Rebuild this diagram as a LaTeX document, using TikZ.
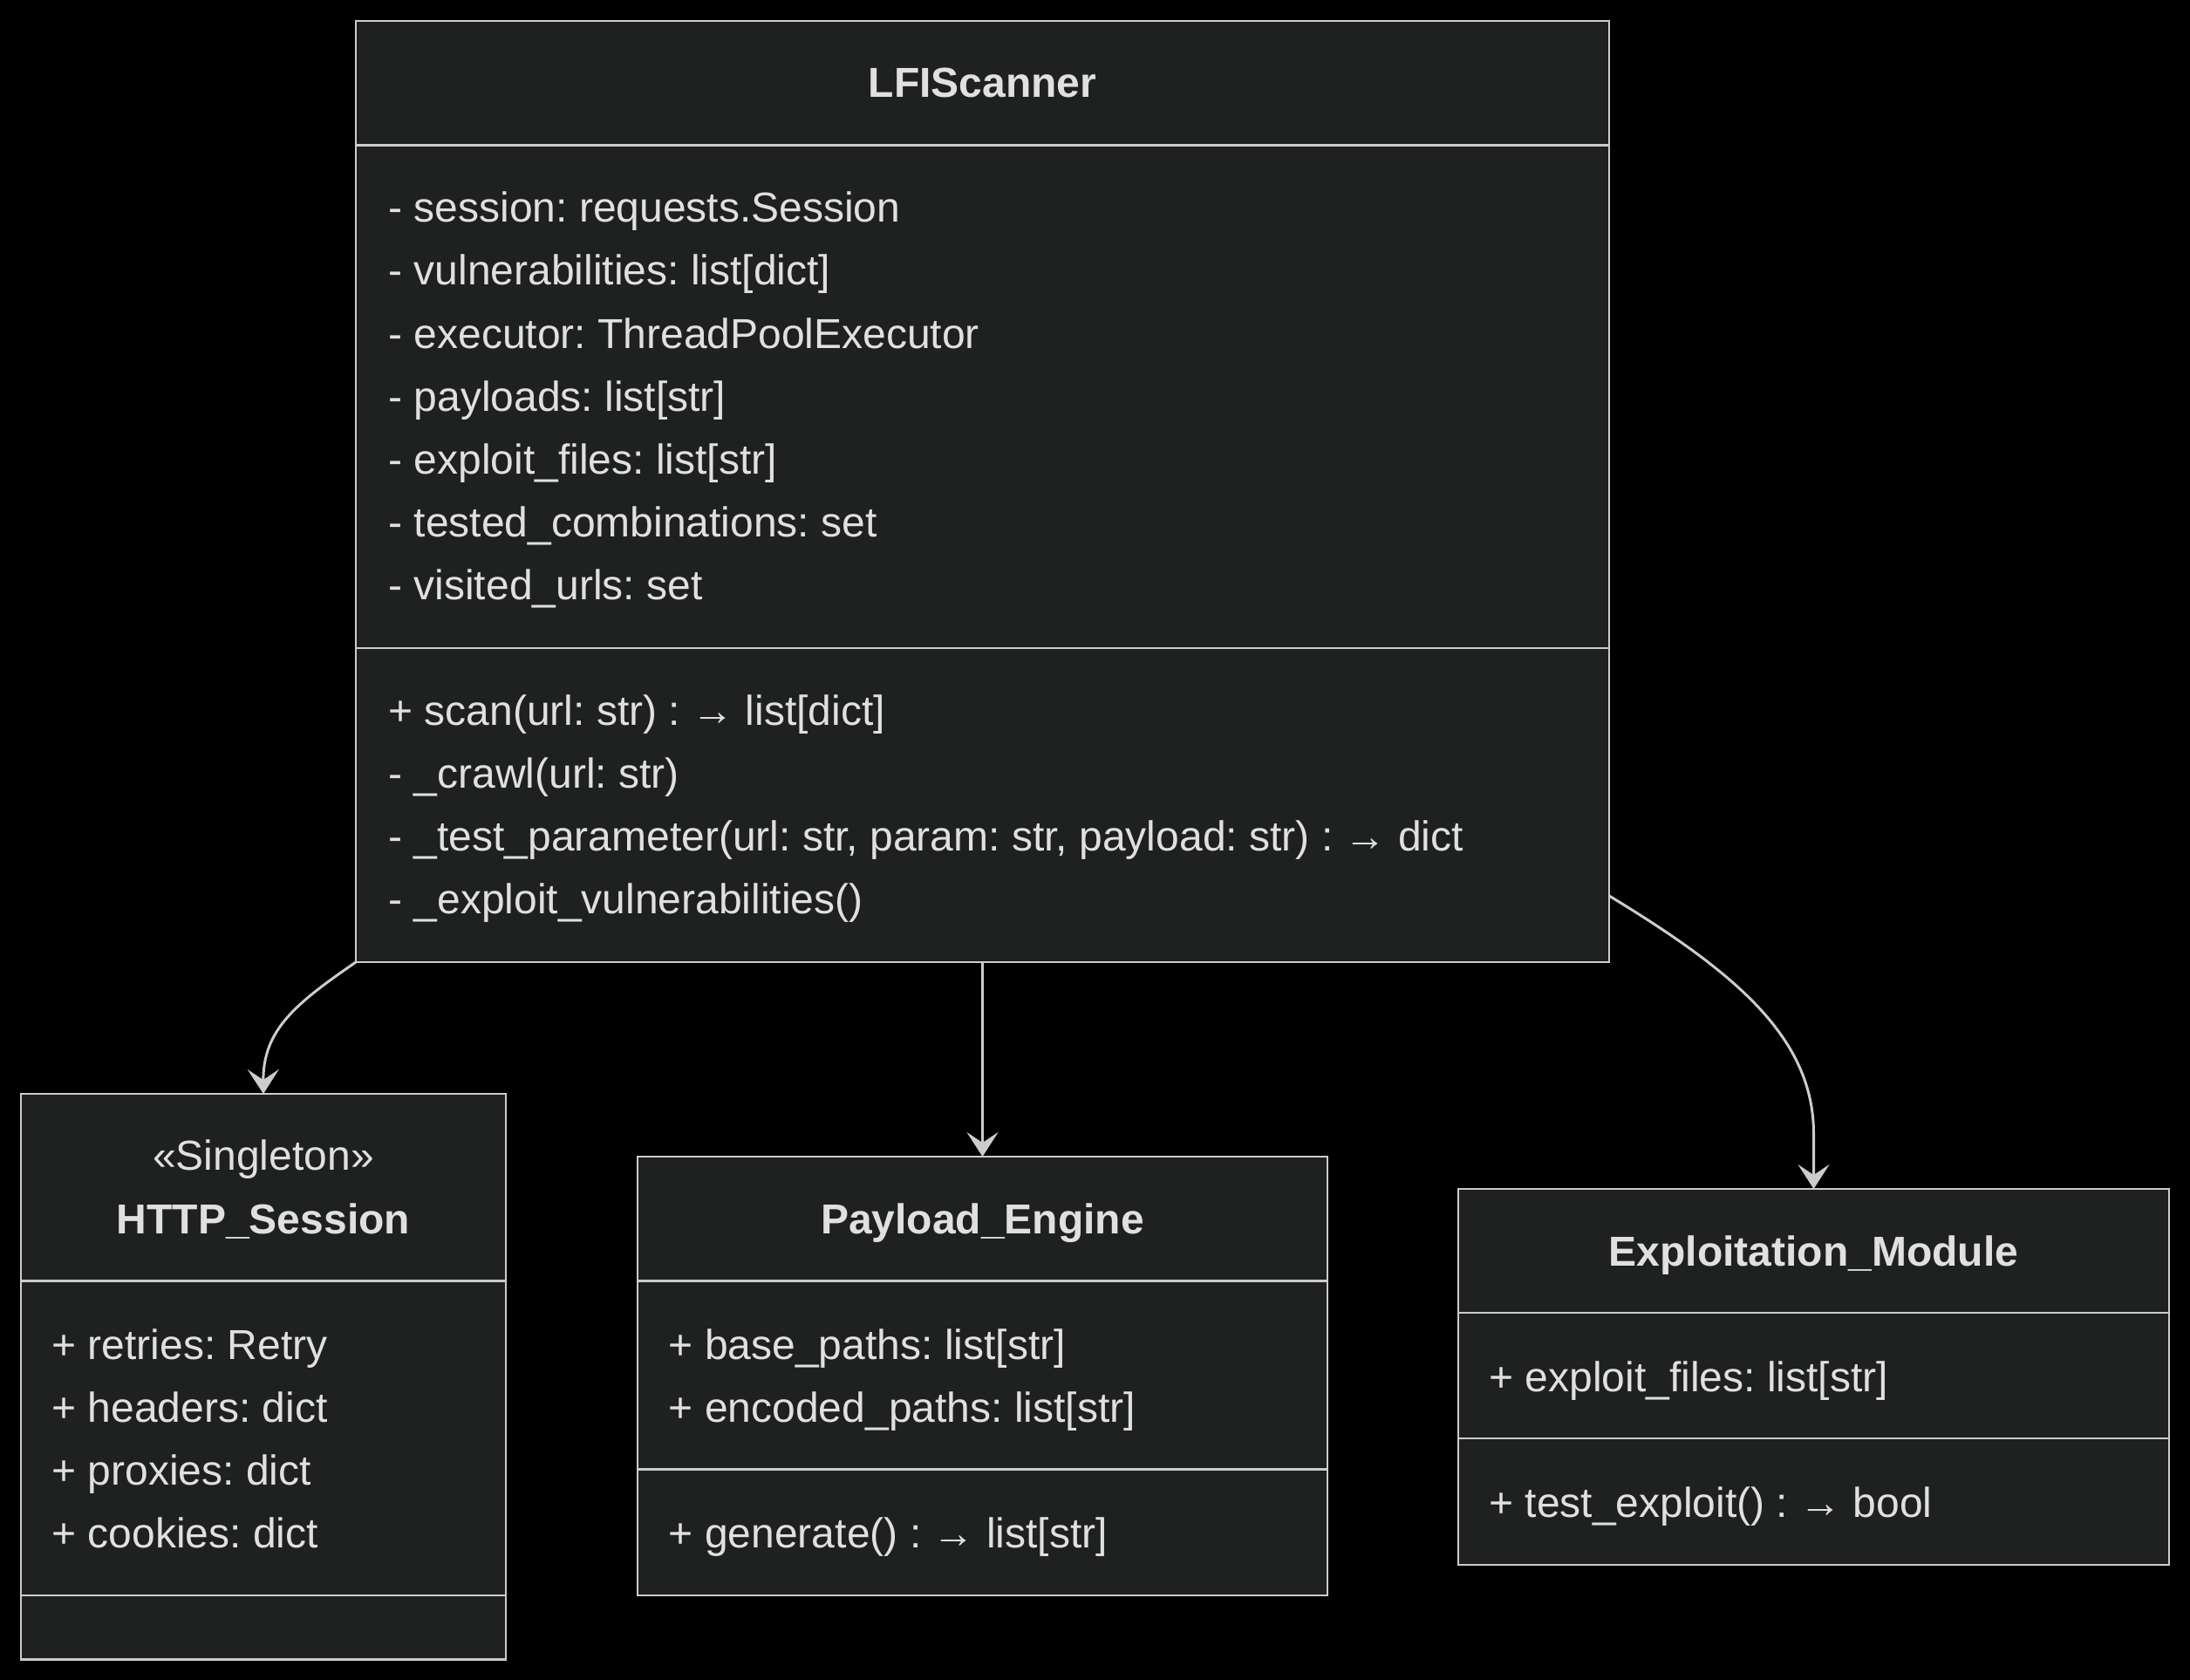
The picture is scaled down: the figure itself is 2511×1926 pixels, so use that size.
\documentclass[tikz,border=0pt]{standalone}
\usepackage{fontspec}
\setmainfont{Liberation Sans}
\usetikzlibrary{arrows.meta}
\definecolor{boxfill}{HTML}{1F2020}
\definecolor{boxline}{HTML}{CCCCCC}
\definecolor{txt}{HTML}{E0E0E0}
\frenchspacing
\begin{document}
\begin{tikzpicture}[x=0.5pt,y=-0.5pt,
  box/.style={draw=boxline, fill=boxfill, line width=1.3pt, inner sep=0pt, outer sep=0pt},
  divider/.style={draw=boxline, line width=1.3pt},
  mem/.style={anchor=base west, inner sep=0pt, text=txt, font=\fontsize{24pt}{36pt}\selectfont},
  ttl/.style={anchor=base, inner sep=0pt, text=txt, font=\fontsize{24pt}{36pt}\selectfont\bfseries},
  stereo/.style={anchor=base, inner sep=0pt, text=txt, font=\fontsize{24pt}{36pt}\selectfont},
  conn/.style={draw=boxline, line width=1.5pt, -{Stealth[length=14pt,width=18pt,inset=6pt]}}]
\useasboundingbox (0,0) rectangle (2511,1926);
\fill[black] (0,0) rectangle (2511,1926);

% LFIScanner
\node[box, minimum width=718.5pt, minimum height=539.5pt] (lfi) at (1126.5,563.5) {};
\draw[divider] (lfi.west |- 0,166.5) -- (lfi.east |- 0,166.5);
\draw[divider] (lfi.west |- 0,743) -- (lfi.east |- 0,743);
\node[ttl] (lfit) at (1126.5,112) {LFIScanner};
\node[mem] (lfia1) at (445,255) {- session: requests.Session};
\node[mem] (lfia2) at (445,327) {- vulnerabilities: list[dict]};
\node[mem] (lfia3) at (445,399) {- executor: ThreadPoolExecutor};
\node[mem] (lfia4) at (445,471) {- payloads: list[str]};
\node[mem] (lfia5) at (445,543) {- exploit\_files: list[str]};
\node[mem] (lfia6) at (445,615) {- tested\_combinations: set};
\node[mem] (lfia7) at (445,687) {- visited\_urls: set};
\node[mem] (lfim1) at (445,831.5) {+ scan(url: str) : → list[dict]};
\node[mem] (lfim2) at (445,903.5) {- \_crawl(url: str)};
\node[mem] (lfim3) at (445,975.5) {- \_test\_parameter(url: str, param: str, payload: str) : → dict};
\node[mem] (lfim4) at (445,1047.5) {- \_exploit\_vulnerabilities()};

% HTTP_Session
\node[box, minimum width=278pt, minimum height=324.25pt] (http) at (302,1578.25) {};
\draw[divider] (http.west |- 0,1468.5) -- (http.east |- 0,1468.5);
\draw[divider] (http.west |- 0,1829) -- (http.east |- 0,1829);
\node[stereo] (https) at (302,1341) {«Singleton»};
\node[ttl] (httpt) at (302,1414) {HTTP\_Session};
\node[mem] (httpa1) at (59,1558.5) {+ retries: Retry};
\node[mem] (httpa2) at (59,1630.5) {+ headers: dict};
\node[mem] (httpa3) at (59,1702.5) {+ proxies: dict};
\node[mem] (httpa4) at (59,1774.5) {+ cookies: dict};

% Payload_Engine
\node[box, minimum width=395.5pt, minimum height=251.5pt] (pe) at (1126.5,1577.5) {};
\draw[divider] (pe.west |- 0,1468.5) -- (pe.east |- 0,1468.5);
\draw[divider] (pe.west |- 0,1684.5) -- (pe.east |- 0,1684.5);
\node[ttl] (pet) at (1126.5,1414) {Payload\_Engine};
\node[mem] (pea1) at (766.5,1558.5) {+ base\_paths: list[str]};
\node[mem] (pea2) at (766.5,1630.5) {+ encoded\_paths: list[str]};
\node[mem] (pem1) at (766.5,1774.5) {+ generate() : → list[str]};

% Exploitation_Module
\node[box, minimum width=407.5pt, minimum height=215.5pt] (em) at (2079.5,1578.5) {};
\draw[divider] (em.west |- 0,1505) -- (em.east |- 0,1505);
\draw[divider] (em.west |- 0,1649) -- (em.east |- 0,1649);
\node[ttl] (emt) at (2079.5,1451) {Exploitation\_Module};
\node[mem] (ema1) at (1707,1595) {+ exploit\_files: list[str]};
\node[mem] (emm1) at (1707,1739) {+ test\_exploit() : → bool};

% connectors
\draw[conn] (lfi.south west) .. controls (340,1150) and (301.5,1180) .. (http.north);
\draw[conn] (lfi.south) -- (pe.north);
\coordinate (bend) at (2079.5,1300);
\draw[conn] ([yshift=38pt]lfi.south east) .. controls (1990,1115) and (2079.5,1190) .. (bend) -- (em.north);
\end{tikzpicture}
\end{document}
